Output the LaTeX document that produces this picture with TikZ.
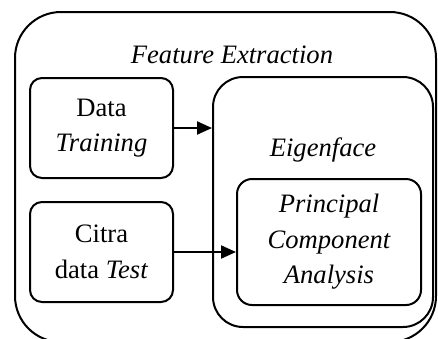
\documentclass[tikz,border=0pt]{standalone}
\usepackage{fontspec}
\setmainfont{Liberation Serif}
\usetikzlibrary{arrows.meta}
\begin{document}
\begin{tikzpicture}[x=0.5pt,y=-0.5pt,
        box/.style={draw, line width=1pt, rounded corners=#1, inner sep=0pt, align=center},
        box/.default=6pt,
        link/.style={line width=1pt, -{Triangle[length=7.5pt,width=6.5pt]}}]
        \fontsize{13.3}{17.8}\selectfont
        \clip (0,0) rectangle (438,338);

        % Outer block
        \node[box=23pt, minimum width=210.5pt, minimum height=165pt] (fe) at (225.5,177) {};
        \node (fetitle) at (232,55) {\textit{Feature Extraction}};

        % Inputs on the left
        \node[box, minimum width=71.5pt, minimum height=50pt] (data) at (101.5,128) {Data\\\textit{Training}};
        \node[box, minimum width=71.5pt, minimum height=50pt] (citra) at (101.5,252) {Citra\\data \textit{Test}};

        % Eigenface block with PCA inside
        \node[box=15pt, minimum width=110pt, minimum height=125pt] (eigen) at (323,202) {};
        \node (eigentitle) at (323,150) {\textit{Eigenface}};
        \node[box=7.5pt, minimum width=92pt, minimum height=63pt, font=\itshape] (pca) at (329,242) {Principal\\Component\\Analysis};

        % Connections
        \draw[link] (data.east) -- (data.east -| eigen.west);
        \draw[link] (citra.east) -- (citra.east -| pca.west);
    \end{tikzpicture}
\end{document}
